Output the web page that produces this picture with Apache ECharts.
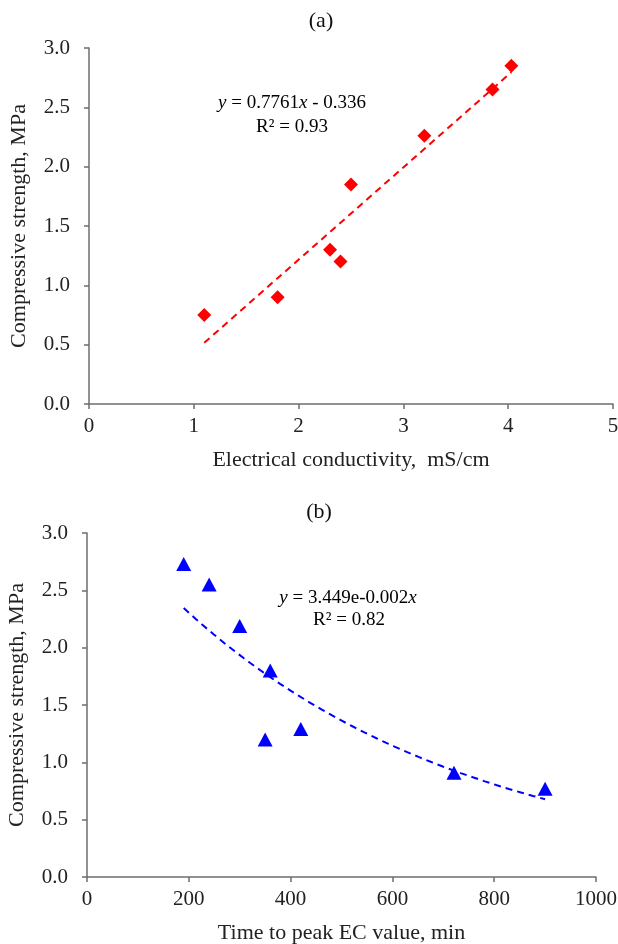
<!DOCTYPE html>
<html>
<head>
<meta charset="utf-8">
<style>
html,body{margin:0;padding:0;background:#fff;}
#chart{width:618px;height:944px;}
</style>
<script src="https://cdn.jsdelivr.net/npm/echarts@6/dist/echarts.min.js"></script>
</head>
<body>
<div id="chart"></div>
<script>
// ---- Data ----
var ecValues = [1.1, 1.8, 2.3, 2.4, 2.5, 3.2, 3.85, 4.03];
var strengthA = [0.75, 0.90, 1.30, 1.20, 1.85, 2.26, 2.65, 2.85];
var timeValues = [190, 240, 300, 360, 350, 420, 721, 900];
var strengthB = [2.73, 2.55, 2.19, 1.80, 1.20, 1.29, 0.91, 0.77];
var xTicksA = [0, 1, 2, 3, 4, 5];
var xTicksB = [0, 200, 400, 600, 800, 1000];
var yTicks = [0.0, 0.5, 1.0, 1.5, 2.0, 2.5, 3.0];
var panelTitles = ['(a)', '(b)'];
var xNames = ['Electrical conductivity,  mS/cm', 'Time to peak EC value, min'];
var yName = 'Compressive strength, MPa';

// ---- Least-squares fits (trendlines) ----
function linFit(xs, ys) {
  var n = xs.length, mx = 0, my = 0;
  for (var i = 0; i < n; i++) { mx += xs[i]; my += ys[i]; }
  mx /= n; my /= n;
  var sxy = 0, sxx = 0;
  for (var j = 0; j < n; j++) { sxy += (xs[j]-mx)*(ys[j]-my); sxx += (xs[j]-mx)*(xs[j]-mx); }
  var b = sxy / sxx;
  return { slope: b, intercept: my - b*mx };
}
var fitA = linFit(ecValues, strengthA);
var fitB = linFit(timeValues, strengthB.map(function(v){return Math.log(v);}));
var minA = Math.min.apply(null, ecValues), maxA = Math.max.apply(null, ecValues);
var minB = Math.min.apply(null, timeValues), maxB = Math.max.apply(null, timeValues);
var trendA = [[minA, fitA.intercept + fitA.slope*minA], [maxA, fitA.intercept + fitA.slope*maxA]];
var trendB = [];
for (var k = 0; k <= 60; k++) {
  var xv = minB + (maxB - minB) * k / 60;
  trendB.push([xv, Math.exp(fitB.intercept + fitB.slope * xv)]);
}

var FONT = 'Liberation Serif';
var axisColor = '#6e6e6e';
function xAxisCfg(gi, max, interval, name) {
  return {
    gridIndex: gi, type: 'value', min: 0, max: max, interval: interval,
    name: name, nameLocation: 'middle', nameGap: 45,
    nameTextStyle: { fontFamily: FONT, fontSize: 22, color: '#222' },
    axisLine: { show: true, lineStyle: { color: axisColor, width: 1.5 } },
    axisTick: { show: true, inside: false, length: 5, lineStyle: { color: axisColor, width: 1.5 } },
    axisLabel: { fontFamily: FONT, fontSize: 21, color: '#222', margin: 12,
      formatter: function(v){ return String(v); } },
    splitLine: { show: false }
  };
}
function yAxisCfg(gi) {
  return {
    gridIndex: gi, type: 'value', min: 0, max: 3, interval: 0.5,
    name: yName, nameLocation: 'middle', nameGap: 59,
    nameTextStyle: { fontFamily: FONT, fontSize: 22, color: '#222' },
    axisLine: { show: true, lineStyle: { color: axisColor, width: 1.5 } },
    axisTick: { show: true, inside: false, length: 5, lineStyle: { color: axisColor, width: 1.5 } },
    axisLabel: { fontFamily: FONT, fontSize: 21, color: '#222', margin: 19,
      formatter: function(v){ return v.toFixed(1); } },
    splitLine: { show: false }
  };
}
var eqRich = {
  i: { fontFamily: FONT, fontSize: 19, fontStyle: 'italic', color: '#222' },
  n: { fontFamily: FONT, fontSize: 19, color: '#222' }
};

var option = {
  animation: false,
  backgroundColor: '#fff',
  title: [
    { text: panelTitles[0], left: 316, top: 5, textAlign: 'center',
      textStyle: { fontFamily: FONT, fontSize: 22, fontWeight: 'normal', color: '#111' } },
    { text: panelTitles[1], left: 314, top: 496, textAlign: 'center',
      textStyle: { fontFamily: FONT, fontSize: 22, fontWeight: 'normal', color: '#111' } }
  ],
  graphic: [
    { type: 'text', position: [292, 103], style: {
        text: '{i|y}{n| = 0.7761}{i|x}{n| - 0.336}', rich: eqRich, align: 'center', verticalAlign: 'middle' } },
    { type: 'text', position: [292, 127], style: {
        text: '{n|R² = 0.93}', rich: eqRich, align: 'center', verticalAlign: 'middle' } },
    { type: 'text', position: [348, 598], style: {
        text: '{i|y}{n| = 3.449e-0.002}{i|x}', rich: eqRich, align: 'center', verticalAlign: 'middle' } },
    { type: 'text', position: [349, 620], style: {
        text: '{n|R² = 0.82}', rich: eqRich, align: 'center', verticalAlign: 'middle' } }
  ],
  grid: [
    { left: 89, top: 48, width: 524, height: 356, containLabel: false, outerBoundsMode: 'none' },
    { left: 87, top: 533, width: 509, height: 344, containLabel: false, outerBoundsMode: 'none' }
  ],
  xAxis: [ xAxisCfg(0, 5, 1, xNames[0]), xAxisCfg(1, 1000, 200, xNames[1]) ],
  yAxis: [ yAxisCfg(0), yAxisCfg(1) ],
  series: [
    { type: 'line', xAxisIndex: 0, yAxisIndex: 0, data: trendA, showSymbol: false, symbol: 'none',
      lineStyle: { color: '#ff0000', width: 2, type: [7, 5] }, z: 2 },
    { type: 'scatter', xAxisIndex: 0, yAxisIndex: 0,
      data: ecValues.map(function(x, i){ return [x, strengthA[i]]; }),
      symbol: 'diamond', symbolSize: [14, 14], itemStyle: { color: '#ff0000', opacity: 1 }, z: 3 },
    { type: 'line', xAxisIndex: 1, yAxisIndex: 1, data: trendB, showSymbol: false, symbol: 'none',
      lineStyle: { color: '#0000ff', width: 2, type: [7, 5] }, z: 2 },
    { type: 'scatter', xAxisIndex: 1, yAxisIndex: 1,
      data: timeValues.map(function(x, i){ return [x, strengthB[i]]; }),
      symbol: 'triangle', symbolSize: [15, 14], itemStyle: { color: '#0000ff', opacity: 1 }, z: 3 }
  ]
};
var chart = echarts.init(document.getElementById('chart'), null, { renderer: 'canvas' });
chart.setOption(option);
</script>
</body>
</html>
